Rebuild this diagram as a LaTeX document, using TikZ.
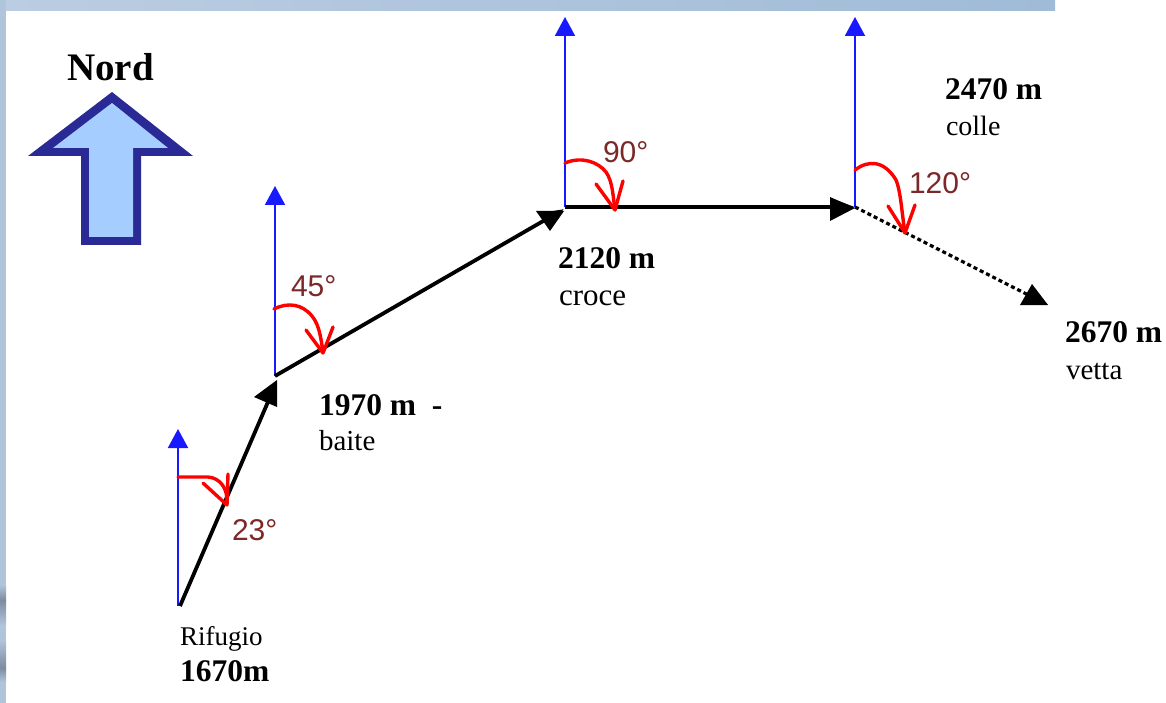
\documentclass[tikz,border=0pt]{standalone}
\usepackage{fontspec}
\setmainfont{Liberation Serif}
\newfontfamily\anglefont{Liberation Sans}
\usetikzlibrary{arrows.meta}
\definecolor{stripA}{RGB}{187,205,226}
\definecolor{stripB}{RGB}{160,187,215}
\definecolor{stripC}{RGB}{176,196,218}
\definecolor{stripD}{RGB}{125,140,160}
\definecolor{nordline}{RGB}{42,42,150}
\definecolor{nordfill}{RGB}{165,205,255}
\definecolor{northblue}{RGB}{25,25,255}
\definecolor{anglered}{RGB}{125,40,40}
\tikzset{
  x=1pt,y=-1pt,
  northarrow/.style={draw=northblue,line width=2pt,-{Triangle[length=19pt,width=20pt]}},
  route/.style={draw=black,line width=3.8pt},
  routetip/.style={route,-{Triangle[length=22pt,width=15pt]}},
  routehead/.style={fill=black},
  sweep/.style={draw=red,line width=3.4pt,line cap=round,line join=round},
  place/.style={anchor=base west,inner sep=0pt,outer sep=0pt,font=\fontsize{29}{31}\selectfont},
  height/.style={anchor=base west,inner sep=0pt,outer sep=0pt,font=\fontsize{31.5}{33}\selectfont\bfseries},
  angletext/.style={anchor=base west,inner sep=0pt,outer sep=0pt,text=anglered,font=\fontsize{30}{32}\selectfont\anglefont},
}
\begin{document}
\begin{tikzpicture}
\useasboundingbox (0,0) rectangle (1166,703);
\fill[white] (0,0) rectangle (1166,703);
% window strips
\shade[left color=stripA,right color=stripB] (0,0) rectangle (1055,11);
\fill[stripC] (0,0) rectangle (6,703);
\shade[top color=stripC,bottom color=stripD] (0,585) rectangle (6,600);
\shade[top color=stripD,bottom color=stripC] (0,600) rectangle (6,625);
\shade[top color=stripC,bottom color=stripD] (0,640) rectangle (6,668);
\shade[top color=stripD,bottom color=stripC] (0,668) rectangle (6,682);
% Nord arrow
\fill[nordline] (112,92) -- (193,156) -- (141,156) -- (141,245) -- (81,245) -- (81,156) -- (28,156) -- cycle;
\fill[nordfill] (112,103) -- (168,148) -- (133,148) -- (133,237) -- (89,237) -- (89,148) -- (53,148) -- cycle;
\node[anchor=base west,inner sep=0pt,font=\fontsize{39}{41}\selectfont\bfseries] (nord) at (67,81) {Nord};
% stations
\coordinate (rifugio) at (180,606);
\coordinate (baite) at (275,376);
\coordinate (croce) at (565,207);
\coordinate (colle) at (855,207);
\coordinate (vetta) at (1048,305);
% north references
\coordinate (n0base) at (178,606); \coordinate (n0) at (178,429);
\coordinate (n1) at (275,186);
\coordinate (n2) at (565,17);
\coordinate (n3) at (855,17);
\draw[northarrow] (n0base) -- (n0);
\draw[northarrow] (baite) -- (n1);
\draw[northarrow] (croce) -- (n2);
\draw[northarrow] (colle) -- (n3);
% route
\coordinate (t1) at (277,381);
\coordinate (t2) at (564,209);
\draw[routetip] (rifugio) -- (t1);
\draw[routetip] (baite) -- (t2);
\draw[routetip] (croce) -- (colle);
\draw[route,line width=3.2pt,dash pattern=on 4pt off 3pt,-{Triangle[length=22pt,width=14pt]}] (colle) -- (vetta);
\fill[routehead] (254,397) -- (277,380) -- (277,407) -- cycle;
\fill[routehead] (536,211) -- (564,211) -- (550,231) -- cycle;
\fill[routehead] (830,197) -- (855,208) -- (830,221) -- cycle;
\fill[routehead] (1032,284) -- (1048,305) -- (1020,305) -- cycle;
% angle sweeps
\draw[sweep] (178,477) -- (208,477) .. controls (220,478) and (228,488) .. (227,504);
\draw[sweep] (203,483) -- (227,505) -- (228,474);
\draw[sweep] (274,309) .. controls (288,302) and (302,304) .. (312,316) .. controls (320,326) and (321,340) .. (323,352);
\draw[sweep] (306,330) -- (323,353) -- (333,327);
\draw[sweep] (565,163) .. controls (582,156) and (598,162) .. (606,172) .. controls (613,182) and (613,198) .. (615,209);
\draw[sweep] (596,184) -- (615,210) -- (623,181);
\draw[sweep] (855,170) .. controls (868,160) and (884,160) .. (896,180) .. controls (901,192) and (902,216) .. (905,232);
\draw[sweep] (888,206) -- (905,233) -- (915,205);
% labels
\node[angletext] (a23) at (232,540) {23°};
\node[angletext] (a45) at (291,296) {45°};
\node[angletext] (a90) at (603,163) {90°};
\node[angletext] (a120) at (909,194) {120°};
\node[place,font=\fontsize{27}{29}\selectfont] (lrif) at (180,645) {Rifugio};
\node[height] (hrif) at (180,681) {1670m};
\node[height] (hbai) at (319,415) {1970 m\hspace{0.5em}-};
\node[place] (lbai) at (319,450) {baite};
\node[height] (hcro) at (558,269) {2120 m};
\node[place,font=\fontsize{31}{33}\selectfont] (lcro) at (559,305) {croce};
\node[height] (hcol) at (945,100) {2470 m};
\node[place,font=\fontsize{28}{30}\selectfont] (lcol) at (946,136) {colle};
\node[height] (hvet) at (1065,342) {2670 m};
\node[place] (lvet) at (1066,379) {vetta};
\end{tikzpicture}
\end{document}
